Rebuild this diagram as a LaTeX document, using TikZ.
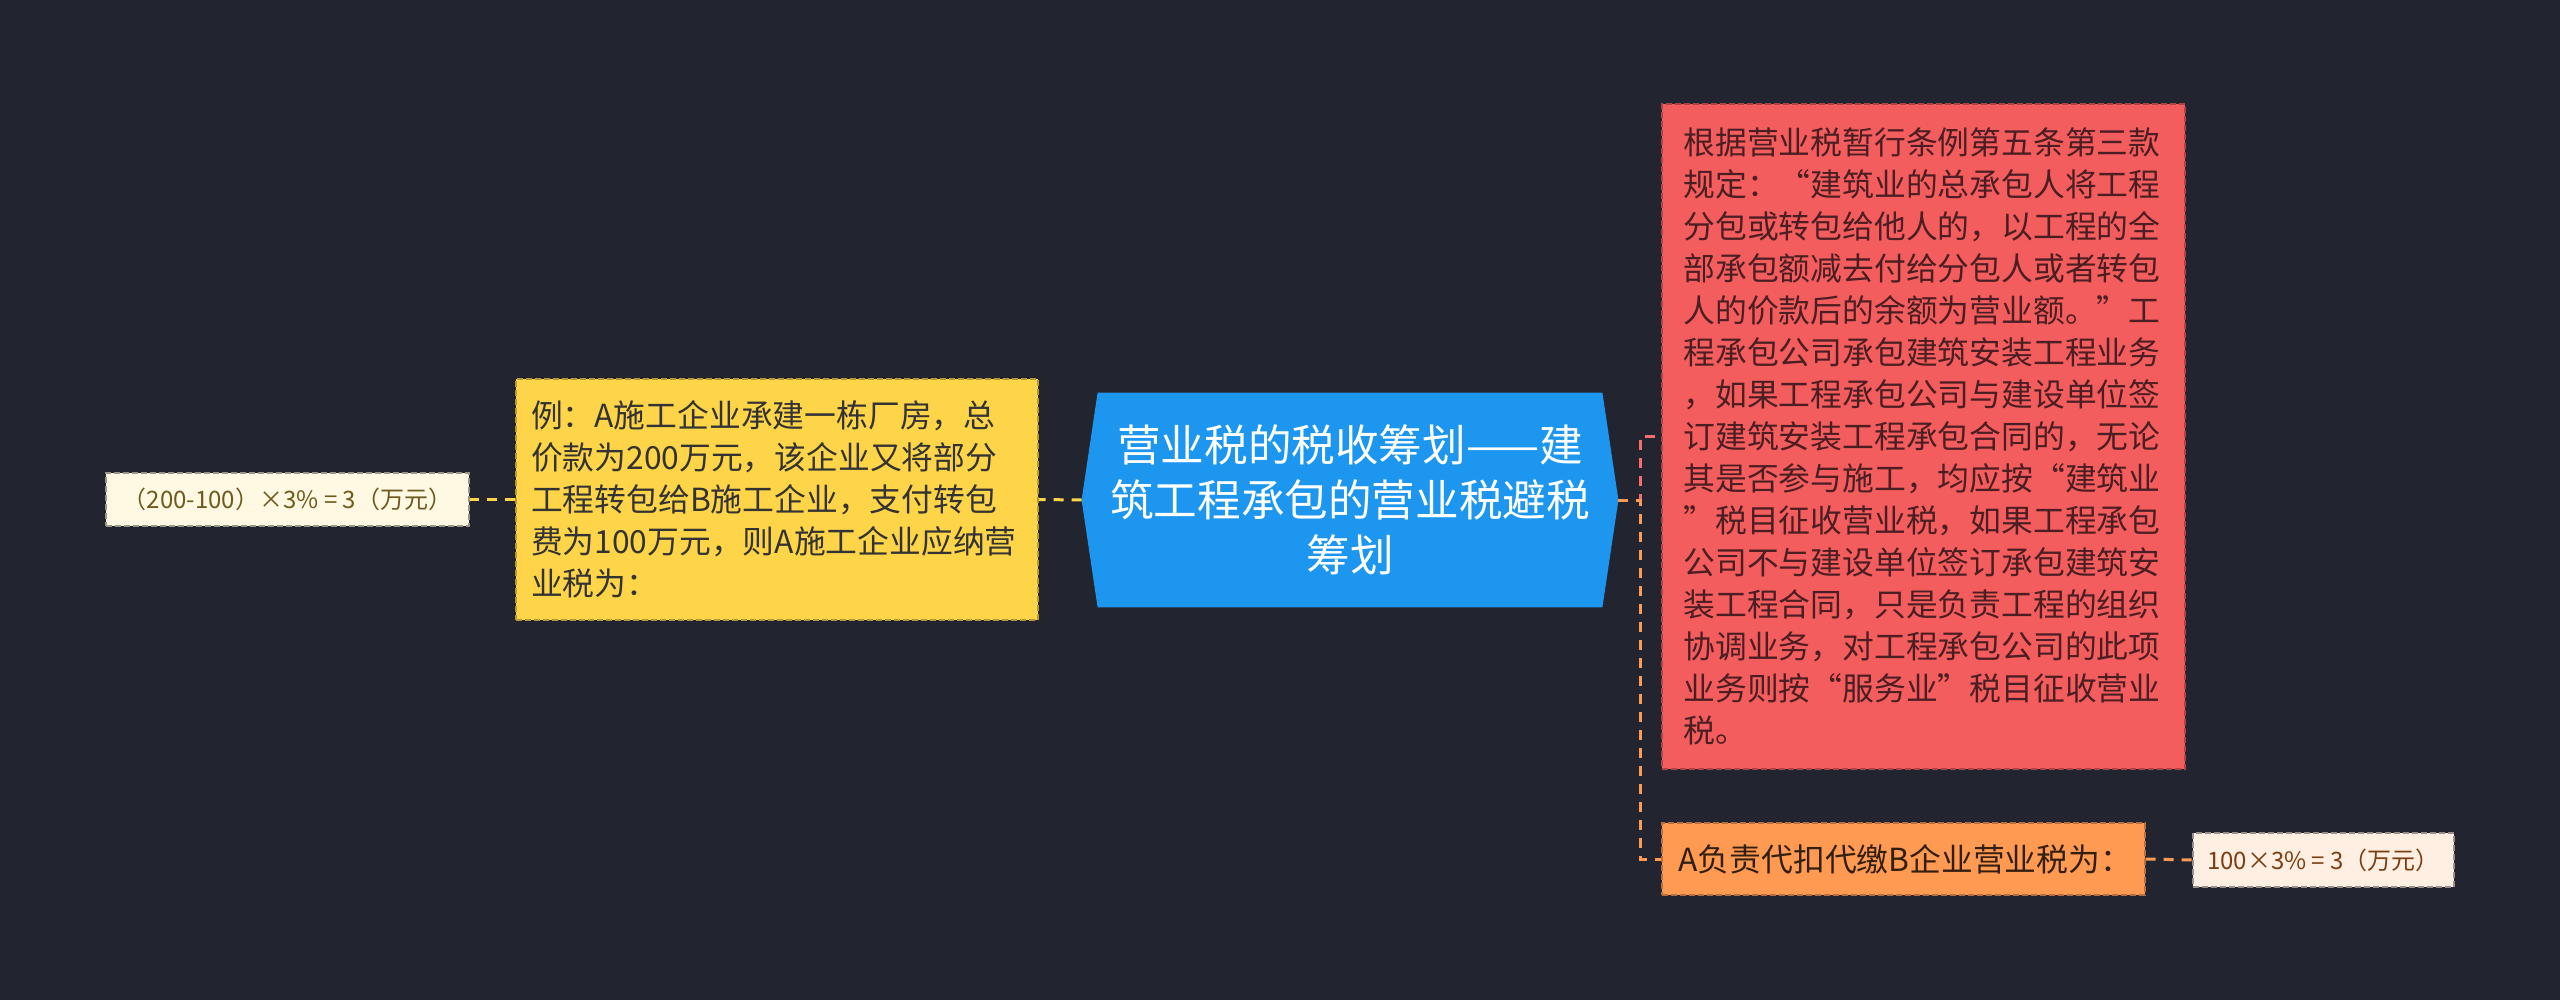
\documentclass[tikz,border=0pt]{standalone}
\usepackage{fontspec}
\setmainfont{Noto Sans CJK SC}
\usetikzlibrary{backgrounds}
\definecolor{bgc}{HTML}{22252F}
\definecolor{rootc}{HTML}{1D96EF}
\definecolor{yelc}{HTML}{FED548}
\definecolor{redc}{HTML}{F45D5D}
\definecolor{orac}{HTML}{FF9A52}
\definecolor{creamc}{HTML}{FFF8E2}
\definecolor{peachc}{HTML}{FFEFE2}
\definecolor{olivetext}{HTML}{6E5A1E}
\definecolor{browntext}{HTML}{7A3E12}
\definecolor{redtext}{HTML}{4A1E22}

\begin{document}
\begin{tikzpicture}[x=0.5pt,y=-0.5pt,
	every node/.style={inner sep=0pt},
	mainbox/.style={align=center,text=white,minimum width=268pt,minimum height=107pt,font=\fontsize{21.8}{27.5}\selectfont},
	textbox/.style={fill=#1,draw=#1!72!black,dash pattern=on 3pt off 1.5pt,line width=0.6pt,align=left,font=\fontsize{15.9}{21}\selectfont},
	smallbox/.style={fill=#1,draw=#1!60!black,dash pattern=on 3pt off 1.5pt,line width=0.6pt,font=\fontsize{12}{15}\selectfont},
	link/.style={draw=#1,line width=1.5pt,dash pattern=on 5pt off 4pt}]
	
	\useasboundingbox (0,0) rectangle (2560,1000);
	
	\node[mainbox] (root) at (1350,500) {营业税的税收筹划——建\\筑工程承包的营业税避税\\筹划};
	
	\node[textbox=yelc,text=black!80,minimum width=261pt,minimum height=120.5pt,text width=246pt] (example) at (777,499.5)
		{例：A施工企业承建一栋厂房，总\\价款为200万元，该企业又将部分\\工程转包给B施工企业，支付转包\\费为100万元，则A施工企业应纳营\\业税为：};
	\node[smallbox=creamc,text=olivetext,minimum width=181.5pt,minimum height=26.5pt] (excalc) at (287.5,499.5)
		{（200-100）×3\% = 3（万元）};
	
	\node[textbox=redc,text=redtext,minimum width=261.5pt,minimum height=332.5pt,text width=240pt] (rule) at (1923.5,436.5)
		{根据营业税暂行条例第五条第三款\\规定：“建筑业的总承包人将工程\\分包或转包给他人的，以工程的全\\部承包额减去付给分包人或者转包\\人的价款后的余额为营业额。”工\\程承包公司承包建筑安装工程业务\\，如果工程承包公司与建设单位签\\订建筑安装工程承包合同的，无论\\其是否参与施工，均应按“建筑业\\”税目征收营业税，如果工程承包\\公司不与建设单位签订承包建筑安\\装工程合同，只是负责工程的组织\\协调业务，对工程承包公司的此项\\业务则按“服务业”税目征收营业\\税。};
	\node[textbox=orac,text=black!80!orac,minimum width=241.5pt,minimum height=36pt,text width=225pt] (agent) at (1903.5,859)
		{A负责代扣代缴B企业营业税为：};
	\node[smallbox=peachc,text=browntext,minimum width=130.5pt,minimum height=27pt] (agcalc) at (2323.5,860)
		{100×3\% = 3（万元）};
	
	\begin{scope}[on background layer]
		\fill[bgc] (0,0) rectangle (2560,1000);
		\fill[rootc] ([xshift=8pt]root.north west) -- ([xshift=-8pt]root.north east) -- (root.east)
			-- ([xshift=-8pt]root.south east) -- ([xshift=8pt]root.south west) -- (root.west) -- cycle;
		\draw[link=yelc] (root.west) -- (example.east);
		\draw[link=yelc] (example.west) -- (excalc.east);
		\draw[link=redc!90!white] (root.east) -- ++(22,0) |- (rule.west);
		\draw[link=orac] (root.east) -- ++(22,0) |- (agent.west);
		\draw[link=orac] (agent.east) -- (agcalc.west);
	\end{scope}
\end{tikzpicture}
\end{document}
